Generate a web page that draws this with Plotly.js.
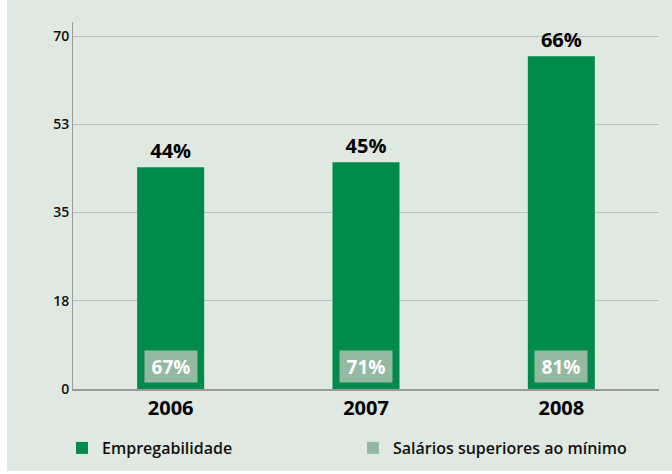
<!DOCTYPE html>
<html>
<head>
<meta charset="utf-8">
<script src="https://cdn.plot.ly/plotly-3.0.1.min.js"></script>
<style>
html,body{margin:0;padding:0;background:#ffffff;}
#chart{position:absolute;left:7px;top:0;width:665px;height:471px;}
</style>
</head>
<body>
<div id="chart"></div>
<script>
const years = ['2006', '2007', '2008'];
const empregabilidade = [44, 45, 66];
const salarios = [67, 71, 81];
const yTickVals = [0, 17.5, 35, 52.5, 70];
const yTickText = ['0', '18', '35', '53', '70'];

const FONT = 'Open Sans, Noto Sans, sans-serif';
const DARK = '#008a4b';
const LIGHT = '#93b9a0';

const traces = [
  {
    type: 'bar',
    name: 'Empregabilidade',
    x: years,
    y: empregabilidade,
    marker: {color: DARK},
    width: 0.343,
    text: empregabilidade.map(v => v + '%'),
    texttemplate: '%{text}',
    textposition: 'outside',
    textfont: {family: FONT, size: 20, color: '#000000', weight: 700},
    cliponaxis: false,
    hoverinfo: 'none'
  },
  {
    type: 'bar',
    name: 'Salários superiores ao mínimo',
    x: years,
    y: years.map(() => null),
    marker: {color: LIGHT},
    hoverinfo: 'none'
  }
];

const annotations = years.map((yr, i) => ({
  x: i, xref: 'x',
  y: 0, yref: 'paper',
  yanchor: 'bottom',
  yshift: 6,
  text: salarios[i] + '%',
  showarrow: false,
  bgcolor: LIGHT,
  width: 50,
  height: 29,
  font: {family: FONT, size: 19, color: '#ffffff', weight: 700}
}));

const layout = {
  width: 665,
  height: 471,
  margin: {l: 66, r: 13, t: 22, b: 82},
  paper_bgcolor: '#dfe8e1',
  plot_bgcolor: '#dfe8e1',
  barmode: 'overlay',
  showlegend: true,
  font: {family: FONT, color: '#111111'},
  xaxis: {
    type: 'category',
    range: [-0.5, 2.5],
    showgrid: false,
    showline: true,
    linecolor: '#9a9a9a',
    linewidth: 1.5,
    ticks: '',
    ticklabelstandoff: 0,
    tickfont: {family: FONT, size: 20, color: '#000000', weight: 700},
    fixedrange: true
  },
  yaxis: {
    range: [0, 72.8],
    tickvals: yTickVals,
    ticktext: yTickText,
    showgrid: true,
    gridcolor: '#bcc0be',
    gridwidth: 1,
    showline: true,
    linecolor: '#9a9a9a',
    linewidth: 1,
    zeroline: false,
    ticks: '',
    tickfont: {family: FONT, size: 14, color: '#111111', weight: 600},
    fixedrange: true
  },
  legend: {
    orientation: 'h',
    xref: 'container',
    yref: 'container',
    x: 0.0827,
    xanchor: 'left',
    y: 0.0488,
    yanchor: 'middle',
    entrywidth: 246,
    itemwidth: 30,
    font: {family: FONT, size: 16, color: '#111111', weight: 600},
    bgcolor: 'rgba(0,0,0,0)'
  },
  annotations: annotations
};

Plotly.newPlot('chart', traces, layout, {displayModeBar: false, staticPlot: true});
</script>
</body>
</html>
